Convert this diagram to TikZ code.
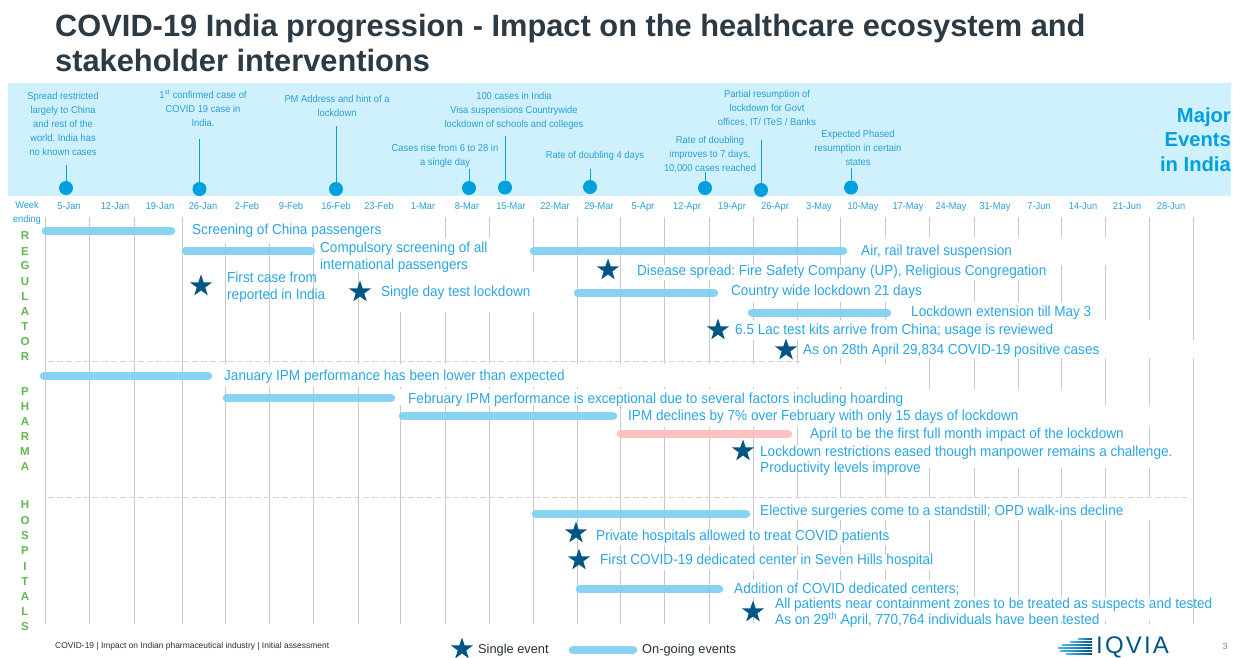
\documentclass[tikz,border=0pt]{standalone}
\usepackage{fontspec}
\setmainfont{Liberation Sans}
\newfontfamily\cond[FakeStretch=.935]{Liberation Sans}
\usetikzlibrary{shapes.geometric}
\definecolor{band}{HTML}{CFF1FE}
\definecolor{dotc}{HTML}{009FDF}
\definecolor{txtc}{HTML}{2AA6E2}
\definecolor{toptxt}{HTML}{2A9FD6}
\definecolor{barc}{HTML}{7FD0F0}
\definecolor{pinkc}{HTML}{FFBDBD}
\definecolor{starc}{HTML}{005587}
\definecolor{gridc}{HTML}{C9C9C9}
\definecolor{dashc}{HTML}{D5D5D5}
\definecolor{greenc}{HTML}{62B84A}
\definecolor{titlec}{HTML}{2C3A45}
\definecolor{darkc}{HTML}{25303A}
\tikzset{
  x=1pt,y=-1pt,
  titletxt/.style={anchor=west,inner sep=0,font=\fontsize{30.8}{34}\selectfont\bfseries,text=titlec},
  body/.style={anchor=west,inner sep=0,font=\frenchspacing\cond\fontsize{14.5}{18}\selectfont,text=txtc,align=left},
  eventtxt/.style={inner sep=0,font=\frenchspacing\cond\fontsize{10}{14}\selectfont,text=toptxt,align=center},
  datetxt/.style={inner sep=0,font=\cond\fontsize{9.9}{14}\selectfont,text=toptxt,anchor=center,text height=7.5,text depth=2.5},
  vletter/.style={inner sep=0,font=\fontsize{11.5}{12}\selectfont\bfseries,text=greenc,anchor=center},
  dot/.style={circle,fill=dotc,inner sep=0,minimum size=14},
  stem/.style={draw=dotc,line width=1},
  bar/.style={line width=8.5,line cap=round,draw=barc,opacity=.93},
  pinkbar/.style={line width=8.5,line cap=round,draw=pinkc,opacity=.93},
  starmark/.style={star,star points=5,star point ratio=2.55,fill=starc,inner sep=0,minimum size=23},
  gridl/.style={draw=gridc,line width=.9},
  sep/.style={draw=dashc,line width=.9,dash pattern=on 6pt off 3pt},
  darktxt/.style={anchor=west,inner sep=0,font=\fontsize{12.8}{14}\selectfont,text=darkc},
}
\begin{document}
\begin{tikzpicture}
\useasboundingbox (0,0) rectangle (1239,657);
\fill[white] (0,0) rectangle (1239,657);
% title
\node[titletxt] (t1) at (55,28.5) {COVID-19 India progression - Impact on the healthcare ecosystem and};
\node[titletxt] (t2) at (55,60) {stakeholder interventions};
% band
\fill[band] (8,83) rectangle (1231,196);
% grid
\foreach \x in {45.9,89,134,182,225,269,313.5,358,400.5,445,489,533,577,620,664.7,709,753,797.5,840.6,885,929,974,1018,1061,1105,1149,1193.5}
  \draw[gridl] (\x,217) -- (\x,624);
% white text backings
\foreach \a/\b/\c/\d in {186/215/405/243,318/238/490/272,378/272/540/312,845/237/1120/265,625/265/1052/280,725/280/940/302,905/302/1100/320,730/320/1160/340,800/340/1200/358,222/364/900/387,400/389/1090/405,622/405/1165/427,802/427/1130/446,758/446/1185/468,755/498/1170/520,590/530/900/545,595/555/935/570,730/580/965/597,772/597/1190/621}
  \fill[white] (\a,\b) rectangle (\c,\d);
% separators
\coordinate (s1a) at (48,361); \coordinate (s1b) at (800,361);
\coordinate (s2a) at (48,497); \coordinate (s2b) at (1187,497);
\draw[sep] (s1a) -- (s1b);
\draw[sep] (s2a) -- (s2b);
% bars
\foreach \a/\b/\y in {46/171/231,186/311/251,534/843/251,578/714/293,752/887/313,44/208/376,227/391/398,403/613/416,536/746/514,580/719/589}
  \draw[bar] (\a,\y) -- (\b,\y);
\draw[pinkbar] (621,434) -- (788,434);
% event dots and stems
\foreach \n/\x/\y/\t in {a/66/188/165,b/199.5/189/139,c/336/189/126,d/469/188/169,e/505/187.5/136,f/590/187/169,g/705/188/172,h/761/190/140,i/851/187.5/168}{
  \node[dot] (dot\n) at (\x,\y) {};
  \coordinate (top\n) at (\x,\t);
  \draw[stem] (dot\n) -- (top\n);
}
% event labels
\node[eventtxt] (ea) at (63,123.5) {Spread restricted\\largely to China\\and rest of the\\world. India has\\no known cases};
\node[eventtxt] (eb) at (203,108.5) {1\textsuperscript{st} confirmed case of\\COVID 19 case in\\India.};
\node[eventtxt] (ec) at (337,105.5) {PM Address and hint of a\\lockdown};
\node[eventtxt] (ee) at (514,110.5) {100 cases in India\\Visa suspensions Countrywide\\lockdown of schools and colleges};
\node[eventtxt] (ed) at (445,155.5) {Cases rise from 6 to 28 in\\a single day};
\node[eventtxt] (ef) at (595,155.5) {Rate of doubling 4 days};
\node[eventtxt] (eg) at (710,155) {Rate of doubling\\improves to 7 days,\\10,000 cases reached};
\node[eventtxt] (eh) at (767,109) {Partial resumption of\\lockdown for Govt\\offices, IT/ ITeS / Banks};
\node[eventtxt] (ei) at (858,148) {Expected Phased\\resumption in certain\\states};
\node[inner sep=0,anchor=east,align=right,text=dotc,font=\fontsize{20.2}{24.5}\selectfont\bfseries] (major) at (1231,139.5) {Major\\Events\\in India};
% date axis
\node[inner sep=0,align=center,text=toptxt,font=\cond\fontsize{9.9}{14}\selectfont] (wk) at (27,213) {Week\\ending};
\foreach \x/\d [count=\i] in {69/5-Jan,115/12-Jan,160/19-Jan,203/26-Jan,247/2-Feb,291/9-Feb,336/16-Feb,379/23-Feb,423/1-Mar,467/8-Mar,511/15-Mar,555/22-Mar,599/29-Mar,643/5-Apr,687/12-Apr,732/19-Apr,775/26-Apr,819/3-May,863/10-May,908/17-May,951/24-May,995/31-May,1039/7-Jun,1083/14-Jun,1127/21-Jun,1171/28-Jun}
  \node[datetxt] (date\i) at (\x,207) {\d};
% vertical side labels
\foreach \y/\l [count=\i] in {236/R,252/E,266/G,282/U,297/L,312/A,327/T,342/O,357/R,392/P,407/H,422/A,437/R,452/M,467/A,505/H,521/O,536/S,551/P,567/I,582/T,597/A,612/L,627/S}
  \node[vletter] (v\i) at (25,\y) {\l};
% stars
\foreach \x/\y [count=\i] in {201/286,360/292,608/270,718/330,786/350,743/451,576/533,579/560,753/612,462/649}
  \node[starmark] (star\i) at (\x,\y) {};
% body labels
\node[body] (l1) at (192,231) {Screening of China passengers};
\node[body] (l2) at (320,257.5) {Compulsory screening of all\\[-1pt]international passengers};
\node[body] (l3) at (861,252) {Air, rail travel suspension};
\node[body] (l4) at (637,272) {Disease spread: Fire Safety Company (UP), Religious Congregation};
\node[body] (l5) at (227,287) {First case from\\[-1pt]reported in India};
\node[body] (l6) at (381,293) {Single day test lockdown};
\node[body] (l7) at (731,292) {Country wide lockdown 21 days};
\node[body] (l8) at (911,313) {Lockdown extension till May 3};
\node[body] (l9) at (735,331) {6.5 Lac test kits arrive from China; usage is reviewed};
\node[body] (l10) at (803,351) {As on 28th April 29,834 COVID-19 positive cases};
\node[body] (l11) at (224,377) {January IPM performance has been lower than expected};
\node[body] (l12) at (408,400) {February IPM performance is exceptional due to several factors including hoarding};
\node[body] (l13) at (628,417) {IPM declines by 7\% over February with only 15 days of lockdown};
\node[body] (l14) at (810,435) {April to be the first full month impact of the lockdown};
\node[body] (l15) at (760,461) {Lockdown restrictions eased though manpower remains a challenge.\\[-2pt]Productivity levels improve};
\node[body] (l16) at (760,512) {Elective surgeries come to a standstill; OPD walk-ins decline};
\node[body] (l17) at (596,537) {Private hospitals allowed to treat COVID patients};
\node[body] (l18) at (600,561) {First COVID-19 dedicated center in Seven Hills hospital};
\node[body] (l19) at (734,589) {Addition of COVID dedicated centers;};
\node[body] (l20) at (775,612.5) {All patients near containment zones to be treated as suspects and tested\\[-2pt]As on 29\textsuperscript{th} April, 770,764 individuals have been tested};
% footer
\node[inner sep=0,anchor=west,text=darkc,font=\fontsize{8.45}{10}\selectfont] (foot) at (55,646) {COVID-19 | Impact on Indian pharmaceutical industry | Initial assessment};
\node[darktxt] (leg1) at (478,650) {Single event};
\coordinate (lb1) at (573,650); \coordinate (lb2) at (633,650);
\draw[bar] (lb1) -- (lb2);
\node[darktxt] (leg2) at (642,650) {On-going events};
\node[inner sep=0,text=gray,font=\fontsize{9}{10}\selectfont] (pg) at (1225,646) {3};
% logo
\foreach \y/\a in {639/1078,642/1070,645/1062,648/1058,651/1060,654/1066}
  \fill[left color=dotc!70,right color=starc] (\a,\y-1) rectangle (1092,\y+.8);
\node[inner sep=0,anchor=west,text=starc,font=\fontsize{24}{26}\selectfont\addfontfeature{LetterSpace=9}] (iq) at (1096,647) {IQVIA};
\end{tikzpicture}
\end{document}
